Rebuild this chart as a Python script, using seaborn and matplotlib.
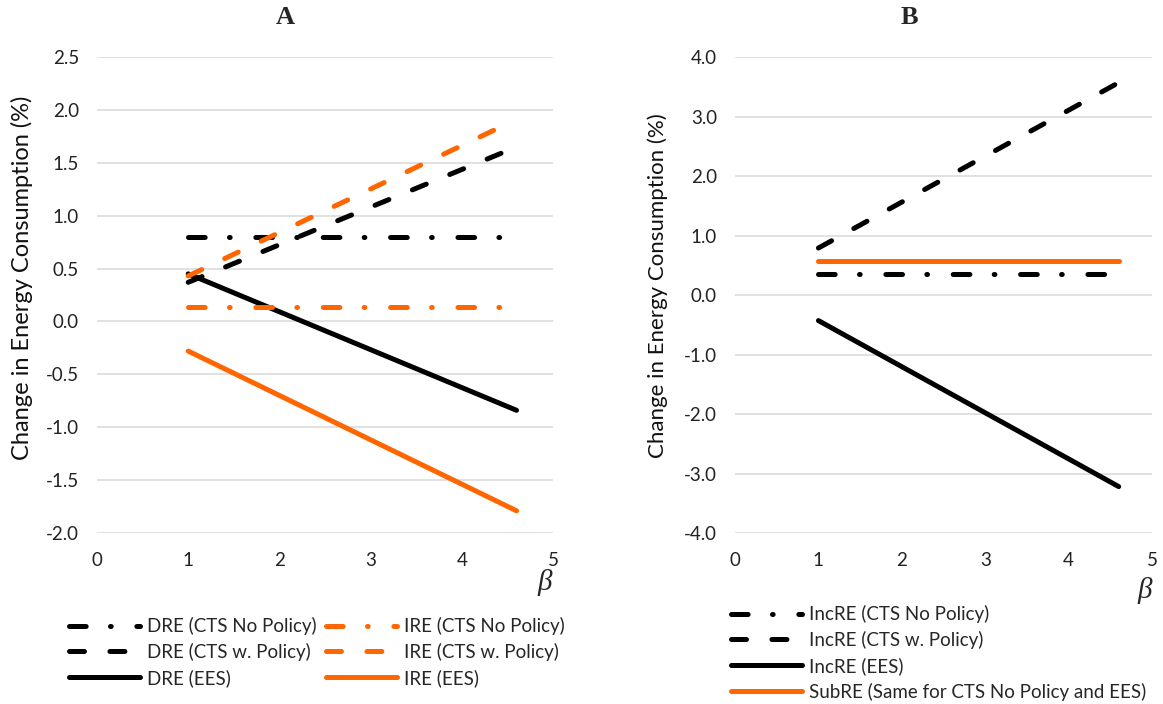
import pandas as pd
import matplotlib.pyplot as plt
import seaborn as sns

# data
beta = [1.0, 4.6]

# panel A: direct (DRE) and indirect (IRE) rebound effects
dre_no_policy = [0.80, 0.80]
dre_w_policy = [0.37, 1.65]
dre_ees = [0.45, -0.84]
ire_no_policy = [0.14, 0.14]
ire_w_policy = [0.43, 1.91]
ire_ees = [-0.28, -1.79]

# panel B: income (IncRE) and substitution (SubRE) rebound effects
incre_no_policy = [0.36, 0.36]
incre_w_policy = [0.79, 3.57]
incre_ees = [-0.43, -3.22]
subre = [0.58, 0.58]

a_ticks_y = [-2.0, -1.5, -1.0, -0.5, 0.0, 0.5, 1.0, 1.5, 2.0, 2.5]
b_ticks_y = [-4.0, -3.0, -2.0, -1.0, 0.0, 1.0, 2.0, 3.0, 4.0]
x_ticks = [0, 1, 2, 3, 4, 5]

sns.set_style('white')
plt.rcParams['font.family'] = ['Lato', 'DejaVu Sans']
plt.rcParams['lines.scale_dashes'] = False

BLACK = '#000000'
ORANGE = '#ff6600'
LW = 3.6
DASHDOT = (0, (12, 17.5, 0.5, 18.5))
DASHED = (0, (10.8, 18.3))
SOLID = '-'

fig = plt.figure(figsize=(11.63, 7.04), dpi=100)
ax_a = fig.add_axes([0.0834, 0.2429, 0.3921, 0.6761])
ax_b = fig.add_axes([0.632, 0.2429, 0.3586, 0.6761])


def draw(ax, values, label, color, ls):
    df = pd.DataFrame({'beta': beta, 'value': values})
    sns.lineplot(data=df, x='beta', y='value', ax=ax, color=color, lw=LW,
                 linestyle=ls, label=label, dash_capstyle='round',
                 solid_capstyle='round', legend=False)


draw(ax_a, dre_no_policy, 'DRE (CTS No Policy)', BLACK, DASHDOT)
draw(ax_a, dre_w_policy, 'DRE (CTS w. Policy)', BLACK, DASHED)
draw(ax_a, dre_ees, 'DRE (EES)', BLACK, SOLID)
draw(ax_a, ire_no_policy, 'IRE (CTS No Policy)', ORANGE, DASHDOT)
draw(ax_a, ire_w_policy, 'IRE (CTS w. Policy)', ORANGE, DASHED)
draw(ax_a, ire_ees, 'IRE (EES)', ORANGE, SOLID)

draw(ax_b, incre_no_policy, 'IncRE (CTS No Policy)', BLACK, DASHDOT)
draw(ax_b, incre_w_policy, 'IncRE (CTS w. Policy)', BLACK, DASHED)
draw(ax_b, incre_ees, 'IncRE (EES)', BLACK, SOLID)
draw(ax_b, subre, 'SubRE (Same for CTS No Policy and EES)', ORANGE, SOLID)

for ax, yt, lim in [(ax_a, a_ticks_y, (-2.0, 2.5)), (ax_b, b_ticks_y, (-4.0, 4.0))]:
    ax.set_xlim(0, 5)
    ax.set_ylim(*lim)
    ax.set_xticks(x_ticks)
    ax.set_yticks(yt)
    ax.set_yticklabels([f'{v:.1f}' for v in yt])
    ax.grid(axis='y', color='#d9d9d9', lw=1.1)
    ax.grid(axis='x', visible=False)
    ax.tick_params(axis='both', length=0, labelsize=13.5, labelcolor='#222222')
    ax.tick_params(axis='y', pad=13)
    ax.tick_params(axis='x', pad=14)
    sns.despine(ax=ax, left=True, bottom=True, top=True, right=True)
    ax.set_xlabel('')

ax_a.set_ylabel('Change in Energy Consumption (%)', fontsize=17, color='#111111')
ax_b.set_ylabel('Change in Energy Consumption (%)', fontsize=16, color='#111111')
ax_a.yaxis.set_label_coords(-0.14, 0.536)
ax_b.yaxis.set_label_coords(-0.16, 0.52)

# panel titles and beta labels
fig.text(285 / 1163, 1 - 17 / 704, 'A', ha='center', va='center',
         family='Liberation Serif', weight='bold', fontsize=19)
fig.text(909 / 1163, 1 - 17 / 704, 'B', ha='center', va='center',
         family='Liberation Serif', weight='bold', fontsize=19)
fig.text(545 / 1163, 1 - 582 / 704, 'β', ha='center', va='center',
         family='Liberation Serif', style='italic', fontsize=21)
fig.text(1145 / 1163, 1 - 590 / 704, 'β', ha='center', va='center',
         family='Liberation Serif', style='italic', fontsize=21)

leg_kw = dict(frameon=False, fontsize=13.5, handlelength=3.8, handletextpad=0.35,
              labelspacing=0.42, borderpad=0, borderaxespad=0,
              bbox_transform=fig.transFigure, loc='upper left')
h, l = ax_a.get_legend_handles_labels()
ax_a.legend(h, l, ncol=2, columnspacing=0.5,
            bbox_to_anchor=(69 / 1163, 1 - 617 / 704), **leg_kw)
h, l = ax_b.get_legend_handles_labels()
ax_b.legend(h, l, ncol=1, bbox_to_anchor=(731 / 1163, 1 - 605 / 704), **leg_kw)

fig.savefig('out.png', dpi=100)
